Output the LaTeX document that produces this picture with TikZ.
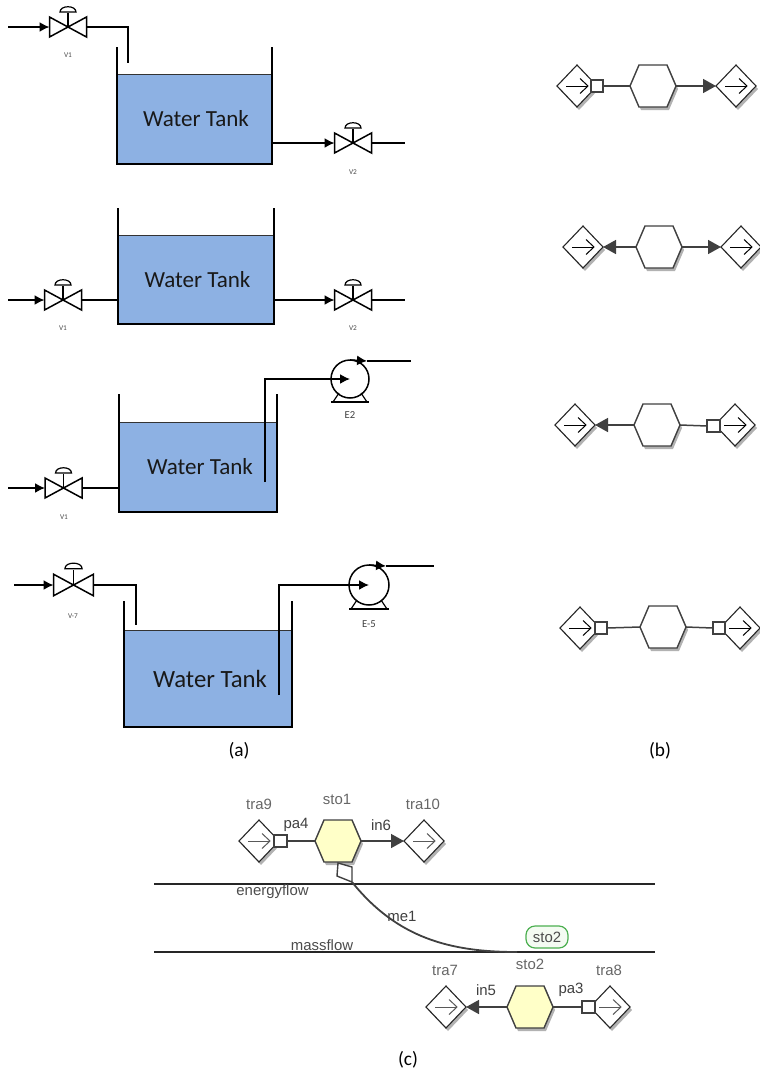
\documentclass[tikz,border=0pt]{standalone}
\usepackage{fontspec}
\setmainfont{Carlito}
\newfontfamily\lsans{Liberation Sans}
\usetikzlibrary{arrows.meta,shapes.geometric,shadows}
\definecolor{watercol}{HTML}{8DB1E3}
\definecolor{linedk}{HTML}{404040}
\definecolor{hexfill}{HTML}{FFFFC8}
\definecolor{greenline}{HTML}{4CAF50}
\definecolor{greenfill}{HTML}{F4FBF2}
\def\px{0.75pt}
\tikzset{
  every node/.style={outer sep=0pt},
  pipe/.style={line width=1.6*\px,black},
  pipearrow/.style={pipe,-{Latex[length=10*\px,width=10*\px]}},
  wall/.style={line width=1.6*\px,black},
  water/.style={fill=watercol,draw=none,inner sep=0pt,font=\fontsize{17.3pt}{20pt}\selectfont,text=black!90},
  tinylabel/.style={font=\fontsize{5.5pt}{6pt}\selectfont,text=black!70,inner sep=0pt},
  pumplabel/.style={font=\fontsize{8pt}{9pt}\selectfont,text=black!75,inner sep=0pt},
  caption/.style={font=\fontsize{14.5pt}{17pt}\selectfont,inner sep=0pt},
  softshadow/.style={general shadow={shadow xshift=2*\px,shadow yshift=-3*\px,fill=black!30}},
  tradia/.style={diamond,aspect=1,inner sep=0pt,minimum width=40*\px,minimum height=42*\px,draw=black!85,line width=1.1*\px,fill=white,softshadow},
  boxnode/.style={rectangle,inner sep=0pt,minimum width=12.5*\px,minimum height=12.5*\px,draw=linedk,line width=1.7*\px,fill=white},
  hexanchor/.style={rectangle,inner sep=0pt,minimum width=46*\px,minimum height=42*\px},
  hexpath/.style={draw=linedk,line width=1.4*\px},
  conn/.style={draw=linedk,line width=1.5*\px},
  connarrow/.style={conn,-{Triangle[length=13*\px,width=14*\px]}},
  sblabel/.style={font=\lsans\fontsize{11.2pt}{13pt}\selectfont,inner sep=0pt},
  graylabel/.style={sblabel,text=black!60},
  flowline/.style={draw=black!85,line width=1.2*\px},
  pill/.style={rectangle,rounded corners=9*\px,draw=greenline,line width=1.2*\px,fill=greenfill,minimum width=42*\px,minimum height=22*\px,inner sep=0pt,font=\lsans\fontsize{11.2pt}{13pt}\selectfont,text=black!70},
}
% valve: name, x, y, scale
\newcommand{\valvesym}[4]{%
  \begin{scope}[shift={(#2,#3)},scale=#4]
    \draw[line width=1.5*\px,black,line join=miter] (-18.5,-10) -- (18.5,10) -- (18.5,-10) -- (-18.5,10) -- cycle;
    \draw[line width=1.5*\px,black] (0,0) -- (0,-14);
    \draw[line width=1.2*\px,black] (-8,-15) .. controls (-8,-22) and (8,-22) .. (8,-15) -- cycle;
    \coordinate (#1-l) at (-18.5,0);
    \coordinate (#1-r) at (18.5,0);
  \end{scope}}
% pump: name, x, y, radius
\newcommand{\pumpsym}[4]{%
  \node[circle,draw=black,line width=1.5*\px,minimum size=2*#4*\px,inner sep=0pt] (#1) at (#2,#3) {};
  \begin{scope}[shift={(#2,#3)}]
    \draw[line width=1.3*\px,black] (-#4,#4+4) -- (#4,#4+4);
    \draw[line width=1.2*\px,black] (-#4+2,#4+4) -- (-#4+8,#4-5);
    \draw[line width=1.2*\px,black] (#4-2,#4+4) -- (#4-8,#4-5);
    \coordinate (#1-c) at (0,0);
  \end{scope}}
% hexagon: name, x, y, fill
\newcommand{\hexsym}[4]{%
  \begin{scope}[shift={(#2,#3)}]
    \path[fill=black!30,shift={(2,3)}] (-23,0) -- (-14,-21) -- (14,-21) -- (23,0) -- (14,21) -- (-14,21) -- cycle;
    \path[fill=#4,hexpath] (-23,0) -- (-14,-21) -- (14,-21) -- (23,0) -- (14,21) -- (-14,21) -- cycle;
    \node[hexanchor] (#1) at (0,0) {};
  \end{scope}}
% transition diamond: name, x, y, arrow colour
\newcommand{\trasym}[4]{%
  \node[tradia] (#1) at (#2,#3) {};
  \begin{scope}[shift={(#2,#3)}]
    \draw[line width=1*\px,#4] (-11,0) -- (11,0);
    \draw[line width=1*\px,#4] (3,-7.500) -- (11,0) -- (3,7.500);
  \end{scope}}

\begin{document}
\begin{tikzpicture}[x=0.75pt,y=-0.75pt]
\useasboundingbox (0,0) rectangle (760,1071);

% ---------- (a) row 1
\node[water,anchor=north west,minimum width=155*\px,minimum height=90*\px] (t1) at (117,74) {\hspace*{2.2pt}Water Tank};
\draw[line width=1*\px,black!80] (t1.north west) -- (t1.north east);
\draw[wall] (117,47) -- (t1.south west) -- (t1.south east) -- (272,47);
\valvesym{v1a}{68}{27}{1}
\coordinate (s1) at (8,27);
\coordinate (s2) at (128,27);
\coordinate (s3) at (128,63);
\draw[pipearrow] (s1) -- (v1a-l);
\draw[pipe] (v1a-r) -- (s2) -- (s3);
\valvesym{v1b}{353}{143}{1}
\coordinate (s4) at (273,143);
\coordinate (s5) at (405,143);
\draw[pipearrow] (s4) -- (v1b-l);
\draw[pipe] (v1b-r) -- (s5);
\node[tinylabel] (l1) at (68,55) {V1};
\node[tinylabel] (l2) at (353,172) {V2};

% ---------- (a) row 2
\node[water,anchor=north west,minimum width=156*\px,minimum height=89*\px] (t2) at (118,235) {\hspace*{2.2pt}Water Tank};
\draw[line width=1*\px,black!80] (t2.north west) -- (t2.north east);
\draw[wall] (118,208) -- (t2.south west) -- (t2.south east) -- (274,208);
\valvesym{v2a}{63}{300}{1}
\valvesym{v2b}{353}{300}{1}
\coordinate (r1) at (8,300);
\coordinate (r2) at (118,300);
\coordinate (r3) at (274,300);
\coordinate (r4) at (405,300);
\draw[pipearrow] (r1) -- (v2a-l);
\draw[pipe] (v2a-r) -- (r2);
\draw[pipearrow] (r3) -- (v2b-l);
\draw[pipe] (v2b-r) -- (r4);
\node[tinylabel] (l3) at (63,328) {V1};
\node[tinylabel] (l4) at (353,328) {V2};

% ---------- (a) row 3
\node[water,anchor=north west,minimum width=158*\px,minimum height=90*\px] (t3) at (119,422) {\hspace*{3pt}Water Tank};
\draw[line width=1*\px,black!80] (t3.north west) -- (t3.north east);
\draw[wall] (119,394) -- (t3.south west) -- (t3.south east) -- (277,394);
\valvesym{v3a}{63.500}{488}{1}
\coordinate (q1) at (8,488);
\coordinate (q2) at (119,488);
\draw[pipearrow] (q1) -- (v3a-l);
\draw[pipe] (v3a-r) -- (q2);
\pumpsym{p3}{350}{379}{19}
\coordinate (q3) at (265,482);
\coordinate (q4) at (265,379);
\coordinate (q5) at (367,361);
\coordinate (q6) at (411,361);
\draw[pipe] (q3) -- (q4) -- (p3.west);
\draw[pipearrow] (p3.west) -- (p3-c);
\draw[pipearrow] (p3.north) -- (q5);
\draw[pipe] (q5) -- (q6);
\node[pumplabel] (l5) at (350,415) {E2};
\node[tinylabel] (l6) at (64,517) {V1};

% ---------- (a) row 4
\node[water,anchor=north west,minimum width=168*\px,minimum height=97*\px,font=\fontsize{18.6pt}{21pt}\selectfont] (t4) at (124,630) {\hspace*{3pt}Water Tank};
\draw[line width=1*\px,black!80] (t4.north west) -- (t4.north east);
\draw[wall] (124,601) -- (t4.south west) -- (t4.south east) -- (292,601);
\valvesym{v4a}{73.500}{585}{1.08}
\coordinate (u1) at (14,585);
\coordinate (u2) at (136,585);
\coordinate (u3) at (136,625);
\draw[pipearrow] (u1) -- (v4a-l);
\draw[pipe] (v4a-r) -- (u2) -- (u3);
\pumpsym{p4}{369}{585}{20}
\coordinate (u4) at (279,695);
\coordinate (u5) at (279,585);
\coordinate (u6) at (386,566);
\coordinate (u7) at (434,566);
\draw[pipe] (u4) -- (u5) -- (p4.west);
\draw[pipearrow] (p4.west) -- (p4-c);
\draw[pipearrow] (p4.north) -- (u6);
\draw[pipe] (u6) -- (u7);
\node[pumplabel] (l7) at (369,624) {E-5};
\node[tinylabel] (l8) at (73,616) {V-7};

\node[caption] (capa) at (239,751) {(a)};
\node[caption] (capb) at (660,751) {(b)};
\node[caption] (capc) at (408,1060) {(c)};

% ---------- (b) row 1
\trasym{d1a}{577}{86}{black}
\trasym{d1b}{736}{86}{black}
\hexsym{h1}{653}{86}{white}
\node[boxnode] (b1a) at (597,86) {};
\draw[conn] (b1a.east) -- (h1.west);
\draw[connarrow] (h1.east) -- (d1b.west);

% ---------- (b) row 2
\trasym{d2a}{583}{247}{black}
\trasym{d2b}{741}{247}{black}
\hexsym{h2}{659}{247}{white}
\draw[connarrow] (h2.west) -- (d2a.east);
\draw[connarrow] (h2.east) -- (d2b.west);

% ---------- (b) row 3
\trasym{d3a}{575}{425}{black}
\trasym{d3b}{735}{425}{black}
\hexsym{h3}{657}{425}{white}
\node[boxnode] (b3b) at (713.500,426) {};
\draw[connarrow] (h3.west) -- (d3a.east);
\draw[conn] (h3.east) -- (b3b.west);

% ---------- (b) row 4
\trasym{d4a}{580}{628}{black}
\trasym{d4b}{740}{628}{black}
\hexsym{h4}{663}{627}{white}
\node[boxnode] (b4a) at (601,628) {};
\node[boxnode] (b4b) at (719,628) {};
\draw[conn] (b4a.east) -- (h4.west);
\draw[conn] (h4.east) -- (b4b.west);

% ---------- (c)
\coordinate (e1) at (154,884);
\coordinate (e2) at (655,884);
\coordinate (m1) at (154,952);
\coordinate (m2) at (655,952);
\draw[flowline] (e1) -- (e2);
\draw[flowline] (m1) -- (m2);
\node[sblabel,text=black!70] (ef) at (272.500,892) {energyflow};
\node[sblabel,text=black!70] (mf) at (322,945) {massflow};

\trasym{c1a}{259}{841}{black!65}
\trasym{c1b}{424}{841}{black!65}
\hexsym{c1h}{338}{841}{hexfill}
\node[boxnode] (c1p) at (280.500,841) {};
\draw[conn] (c1p.east) -- (c1h.west);
\draw[connarrow] (c1h.east) -- (c1b.west);
\node[graylabel] (tra9) at (259,804) {tra9};
\node[graylabel] (sto1) at (337,799) {sto1};
\node[graylabel] (tra10) at (423,804) {tra10};
\node[sblabel,text=black!75] (pa4) at (296,825) {pa4};
\node[sblabel,text=black!75] (in6) at (381,825) {in6};

\trasym{c2a}{446}{1007}{black!65}
\trasym{c2b}{610}{1007}{black!65}
\hexsym{c2h}{530}{1007}{hexfill}
\node[boxnode] (c2p) at (588.500,1007) {};
\draw[connarrow] (c2h.west) -- (c2a.east);
\draw[conn] (c2h.east) -- (c2p.west);
\node[graylabel] (tra7) at (445,970) {tra7};
\node[graylabel] (sto2l) at (530,964) {sto2};
\node[graylabel] (tra8) at (609,970) {tra8};
\node[sblabel,text=black!75] (in5) at (486,990) {in5};
\node[sblabel,text=black!75] (pa3) at (571,990) {pa3};

\node[pill] (sto2p) at (547,937) {sto2};

\coordinate (mod) at (352,882);
\coordinate (mend) at (517,952);
\draw[line width=1.8*\px,linedk] (mod) .. controls (397,938) and (450,952) .. (mend);
\draw[line width=1.4*\px,linedk,fill=white,line join=miter] (338,863) -- (352,867) -- (352,882) -- (337,876) -- cycle;
\node[sblabel,text=black!75] (me1) at (402,916) {me1};
\end{tikzpicture}
\end{document}
